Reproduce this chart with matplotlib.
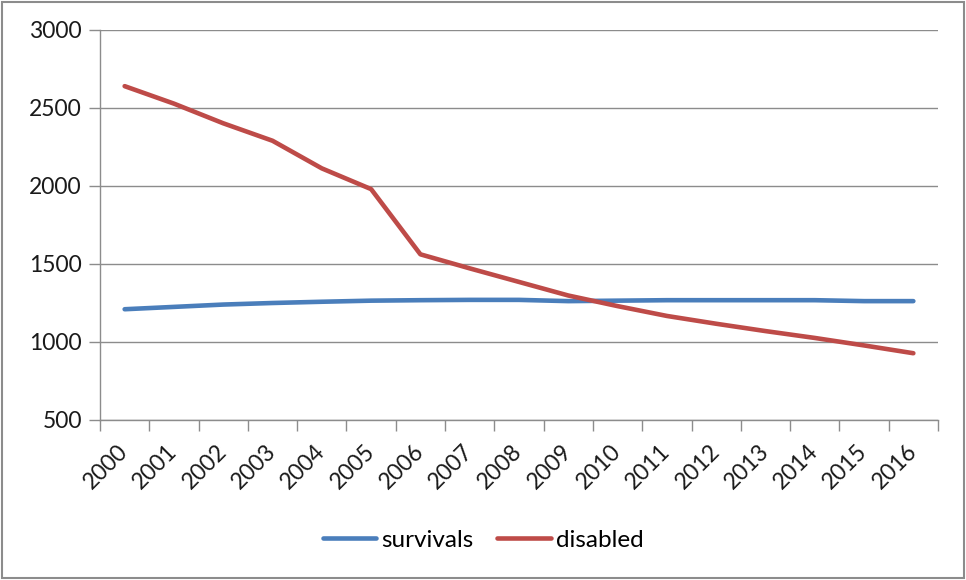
import matplotlib
matplotlib.use("Agg")
import matplotlib.pyplot as plt
from matplotlib.patches import Rectangle
import numpy as np

years = [str(y) for y in range(2000, 2017)]
survivals = [1210, 1225, 1240, 1250, 1258, 1265, 1268, 1270, 1270, 1262,
             1265, 1268, 1268, 1268, 1268, 1262, 1262]
disabled = [2640, 2528, 2402, 2290, 2113, 1980, 1562, 1472, 1385, 1298,
            1230, 1167, 1117, 1070, 1026, 978, 928]
y_ticks = [500, 1000, 1500, 2000, 2500, 3000]

plt.rcParams['font.family'] = ['Lato', 'DejaVu Sans']
FS = 16.5

fig = plt.figure(figsize=(9.66, 5.8), dpi=100)
ax = fig.add_axes([100 / 966, 1 - 420 / 580, 838 / 966, 390 / 580])

x = np.arange(len(years))
grid_c = '#8c8c8c'
ax.plot(x, survivals, color='#4a7ebb', lw=3.3, solid_capstyle='round',
        label='survivals', zorder=3)
ax.plot(x, disabled, color='#be4b48', lw=3.3, solid_capstyle='round',
        label='disabled', zorder=3)

ax.set_xlim(-0.5, len(years) - 0.5)
ax.set_ylim(500, 3000)
ax.set_yticks(y_ticks)
ax.set_yticklabels([str(v) for v in y_ticks], fontsize=FS, color='#1a1a1a')
ax.yaxis.grid(True, color=grid_c, lw=1)
ax.set_axisbelow(True)

ax.set_xticks(x)
ax.set_xticklabels(years, rotation=45, ha='right', va='center',
                   rotation_mode='anchor', fontsize=FS, color='#1a1a1a')
ax.set_xticks(np.arange(-0.5, len(years)), minor=True)
ax.tick_params(axis='x', which='major', length=0, pad=20)
ax.tick_params(axis='x', which='minor', length=8, color=grid_c, width=1)
ax.tick_params(axis='y', length=8, color=grid_c, width=1, pad=5)

for s in ['top', 'right']:
    ax.spines[s].set_visible(False)
for s in ['left', 'bottom']:
    ax.spines[s].set_color(grid_c)
    ax.spines[s].set_linewidth(1)

fig.legend(loc='center', bbox_to_anchor=(0.5, 1 - 540 / 580), ncol=2,
           frameon=False, fontsize=17.5, handlelength=2.2, columnspacing=1.0,
           handletextpad=0.2)

fig.patches.append(Rectangle((0.002, 0.003), 0.996, 0.994, transform=fig.transFigure,
                             fill=False, edgecolor='#8c8c8c', lw=1.5))

fig.savefig('out.png', dpi=100, facecolor='white')
